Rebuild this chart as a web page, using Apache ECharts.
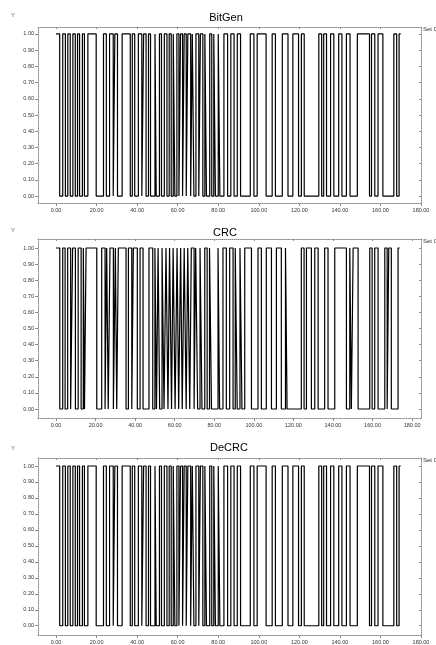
<!DOCTYPE html>
<html>
<head>
<meta charset="utf-8">
<script src="https://cdn.jsdelivr.net/npm/echarts@6/dist/echarts.min.js"></script>
<style>
html,body{margin:0;padding:0;background:#fff;}
#main{width:436px;height:645px;}
</style>
</head>
<body>
<div id="main"></div>
<script>
// signal edges: times where the level flips, level starts at 1
var bitGenEdges = [1.8, 3.3, 4.6, 5.8, 7.0, 8.3, 9.5, 10.6, 11.6, 13.0, 14.0, 15.7, 19.8, 23.4, 24.8, 26.4,
    28.2, 29.0, 30.3, 32.6, 36.6, 37.6, 38.8, 40.6, 42.3, 43.2, 44.4, 45.6, 46.6, 48.8, 49.4, 51.0,
    52.0, 53.4, 54.7, 55.8, 56.8, 57.8, 58.6, 59.6, 60.6, 61.4, 62.4, 63.2, 64.2, 65.0, 66.4, 67.2,
    68.0, 69.0, 70.4, 71.2, 72.4, 73.4, 74.2, 75.8, 76.8, 77.8, 78.6, 80.0, 80.8, 82.8, 84.6, 86.2,
    87.8, 89.4, 91.0, 95.8, 97.6, 99.2, 103.6, 106.6, 108.2, 111.6, 114.4, 116.8, 119.6, 121.0, 122.4, 129.6,
    131.0, 132.0, 133.4, 135.4, 137.0, 139.4, 141.0, 143.2, 145.0, 148.6, 154.6, 155.6, 157.2, 158.8, 161.2, 166.6,
    168.0, 169.2];
var bitGenEnd = 170;

var crcEdges = [1.9, 3.4, 4.6, 5.9, 7.4, 8.4, 9.8, 11.2, 12.7, 13.8, 14.4, 15.2, 20.6, 23.1, 24.8, 25.6,
    26.4, 27.3, 29.0, 30.0, 30.7, 31.5, 35.4, 36.6, 38.3, 39.1, 41.1, 42.5, 44.0, 47.0, 48.9, 50.0,
    50.8, 51.6, 52.4, 53.6, 54.6, 55.6, 56.6, 57.4, 58.4, 59.2, 60.2, 61.2, 62.0, 63.0, 63.8, 64.8,
    65.8, 66.6, 67.6, 68.4, 69.8, 70.6, 71.6, 72.8, 73.8, 75.2, 76.4, 77.6, 78.6, 81.9, 82.7, 84.4,
    86.1, 87.8, 89.5, 90.6, 91.6, 93.0, 94.0, 95.4, 98.8, 102.1, 103.8, 106.3, 108.9, 111.4, 113.9, 116.0,
    116.8, 124.0, 125.4, 126.6, 129.1, 130.8, 132.5, 135.8, 137.5, 140.9, 146.8, 148.5, 149.3, 150.2, 152.7, 158.6,
    159.8, 161.1, 162.8, 166.2, 167.4, 168.2, 169.5, 172.9];
var crcEnd = 173.7;

// decoded stream is the generated stream again
var deCrcEdges = bitGenEdges;
var deCrcEnd = 170;

var panelTitles = ['BitGen', 'CRC', 'DeCRC'];
var xTicks = [0, 20, 40, 60, 80, 100, 120, 140, 160, 180];
var yTicks = [0, 0.1, 0.2, 0.3, 0.4, 0.5, 0.6, 0.7, 0.8, 0.9, 1.0];

var chart = echarts.init(document.getElementById('main'));

function buildWave(edges, end) {
    var level = 1;
    var pts = [[0, level]];
    edges.forEach(function (t) {
        pts.push([t, level]);
        level = 1 - level;
        pts.push([t, level]);
    });
    pts.push([end, level]);
    return pts;
}

var panels = [
    {edges: bitGenEdges, end: bitGenEnd, top: 27, height: 176, xMin: -8.9, xMax: 180, yMin: -0.043, yMax: 1.043, titleX: 226, titleY: 18, capY: 15},
    {edges: crcEdges, end: crcEnd, top: 239, height: 179, xMin: -9.1, xMax: 184.5, yMin: -0.056, yMax: 1.056, titleX: 225, titleY: 233, capY: 230},
    {edges: deCrcEdges, end: deCrcEnd, top: 458, height: 178, xMin: -8.9, xMax: 180, yMin: -0.058, yMax: 1.05, titleX: 229, titleY: 448, capY: 448}
];

var axisGray = '#8c8c8c';
var labelFont = {fontSize: 5.5, color: '#333', fontFamily: 'Liberation Sans'};
var grids = [], xAxes = [], yAxes = [], series = [], graphics = [];

panels.forEach(function (p, i) {
    grids.push({left: 38, top: p.top, width: 383, height: p.height, containLabel: false});

    // bottom axis with labels, top one only for the frame
    xAxes.push({
        gridIndex: i, type: 'value', position: 'bottom', min: p.xMin, max: p.xMax,
        axisLine: {show: true, onZero: false, lineStyle: {color: axisGray, type: 'dotted', width: 1}},
        axisTick: {show: true, customValues: xTicks, length: 3, lineStyle: {color: axisGray}},
        axisLabel: Object.assign({customValues: xTicks, margin: 4, formatter: function (v) { return v.toFixed(2); }}, labelFont),
        splitLine: {show: false}
    });
    xAxes.push({
        gridIndex: i, type: 'value', position: 'top', min: p.xMin, max: p.xMax,
        axisLine: {show: true, onZero: false, lineStyle: {color: axisGray, type: 'dotted', width: 1}},
        axisTick: {show: true, inside: true, customValues: xTicks, length: 2, lineStyle: {color: axisGray}},
        axisLabel: {show: false},
        splitLine: {show: false}
    });
    yAxes.push({
        gridIndex: i, type: 'value', position: 'left', min: p.yMin, max: p.yMax,
        axisLine: {show: true, onZero: false, lineStyle: {color: axisGray, type: 'dotted', width: 1}},
        axisTick: {show: true, customValues: yTicks, length: 3, lineStyle: {color: axisGray}},
        axisLabel: Object.assign({customValues: yTicks, margin: 4, formatter: function (v) { return v.toFixed(2); }}, labelFont),
        splitLine: {show: false}
    });
    yAxes.push({
        gridIndex: i, type: 'value', position: 'right', min: p.yMin, max: p.yMax,
        axisLine: {show: true, onZero: false, lineStyle: {color: axisGray, type: 'dotted', width: 1}},
        axisTick: {show: true, inside: true, customValues: yTicks, length: 2, lineStyle: {color: axisGray}},
        axisLabel: {show: false},
        splitLine: {show: false}
    });

    series.push({
        name: 'Set 0',
        type: 'line',
        xAxisIndex: i * 2,
        yAxisIndex: i * 2,
        data: buildWave(p.edges, p.end),
        showSymbol: false,
        lineStyle: {color: '#000', width: 1.2},
        silent: true
    });

    graphics.push({type: 'text', x: p.titleX, y: p.titleY,
        style: {text: panelTitles[i], fill: '#000', font: '11px "Liberation Sans"', align: 'center', verticalAlign: 'middle'}});
    graphics.push({type: 'text', x: 13, y: p.capY,
        style: {text: 'Y', fill: '#666', font: '6px "Liberation Sans"', align: 'center', verticalAlign: 'middle'}});
    graphics.push({type: 'text', x: 423, y: p.top + 2,
        style: {text: 'Set 0', fill: '#333', font: '6px "Liberation Sans"', align: 'left', verticalAlign: 'middle'}});
});

var option = {
    animation: false,
    backgroundColor: '#fff',
    grid: grids,
    xAxis: xAxes,
    yAxis: yAxes,
    series: series,
    graphic: graphics
};
chart.setOption(option);
</script>
</body>
</html>
